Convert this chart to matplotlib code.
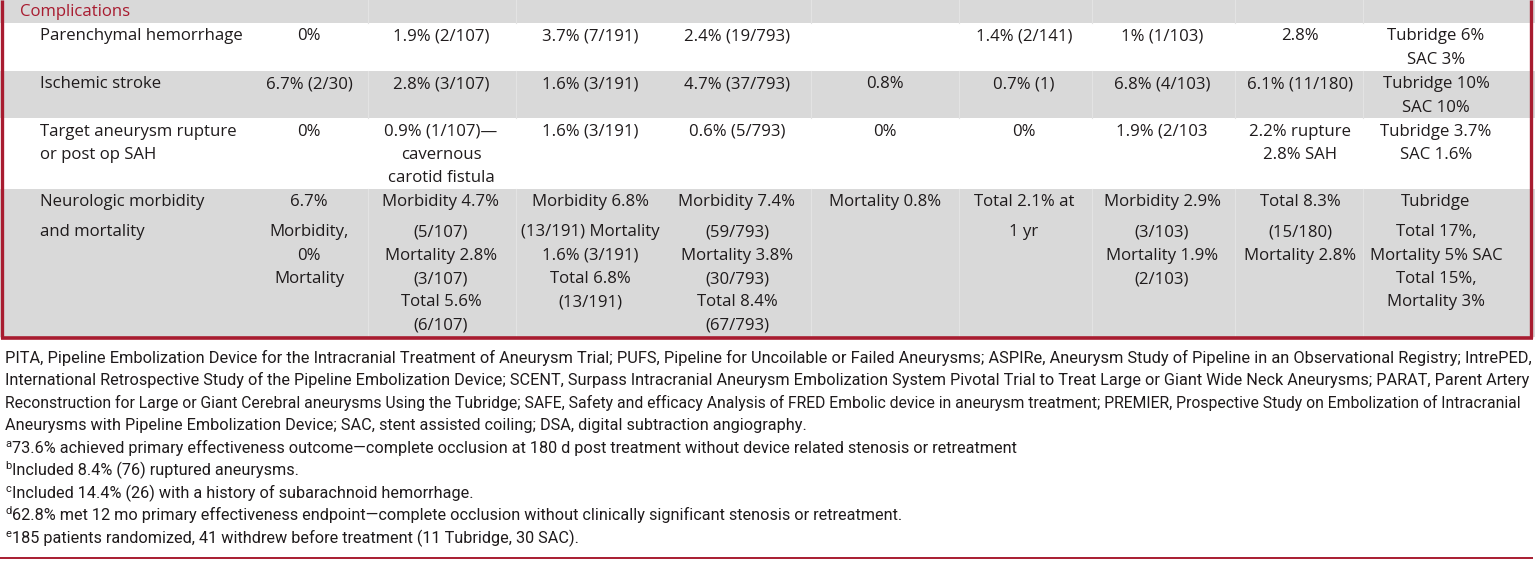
import matplotlib
matplotlib.use('Agg')
import matplotlib.pyplot as plt
from matplotlib.patches import Rectangle

# table content
row_labels = ['Parenchymal hemorrhage', 'Ischemic stroke',
              'Target aneurysm rupture\nor post op SAH',
              'Neurologic morbidity\nand mortality']

parenchymal = ['0%', '1.9% (2/107)', '3.7% (7/191)', '2.4% (19/793)', '',
               '1.4% (2/141)', '1% (1/103)', '2.8%', 'Tubridge 6%\nSAC 3%']
ischemic = ['6.7% (2/30)', '2.8% (3/107)', '1.6% (3/191)', '4.7% (37/793)',
            '0.8%', '0.7% (1)', '6.8% (4/103)', '6.1% (11/180)',
            'Tubridge 10%\nSAC 10%']
rupture = ['0%', '0.9% (1/107)—\ncavernous\ncarotid fistula', '1.6% (3/191)',
           '0.6% (5/793)', '0%', '0%', '1.9% (2/103',
           '2.2% rupture\n2.8% SAH', 'Tubridge 3.7%\nSAC 1.6%']
neuro = ['6.7%\nMorbidity,\n0%\nMortality',
         'Morbidity 4.7%\n(5/107)\nMortality 2.8%\n(3/107)\nTotal 5.6%\n(6/107)',
         'Morbidity 6.8%\n(13/191) Mortality\n1.6% (3/191)\nTotal 6.8%\n(13/191)',
         'Morbidity 7.4%\n(59/793)\nMortality 3.8%\n(30/793)\nTotal 8.4%\n(67/793)',
         'Mortality 0.8%',
         'Total 2.1% at\n1 yr',
         'Morbidity 2.9%\n(3/103)\nMortality 1.9%\n(2/103)',
         'Total 8.3%\n(15/180)\nMortality 2.8%',
         'Tubridge\nTotal 17%,\nMortality 5% SAC\nTotal 15%,\nMortality 3%']
rows = [parenchymal, ischemic, rupture, neuro]

abbrev = ('PITA, Pipeline Embolization Device for the Intracranial Treatment of Aneurysm Trial; '
          'PUFS, Pipeline for Uncoilable or Failed Aneurysms; ASPIRe, Aneurysm Study of Pipeline '
          'in an Observational Registry; IntrePED,|International Retrospective Study of the Pipeline '
          'Embolization Device; SCENT, Surpass Intracranial Aneurysm Embolization System Pivotal '
          'Trial to Treat Large or Giant Wide Neck Aneurysms; PARAT, Parent Artery|Reconstruction '
          'for Large or Giant Cerebral aneurysms Using the Tubridge; SAFE, Safety and efficacy '
          'Analysis of FRED Embolic device in aneurysm treatment; PREMIER, Prospective Study on '
          'Embolization of Intracranial|Aneurysms with Pipeline Embolization Device; SAC, stent '
          'assisted coiling; DSA, digital subtraction angiography.')
abbrev_lines = abbrev.split('|')

note_marks = ['a', 'b', 'c', 'd', 'e']
notes = ['73.6% achieved primary effectiveness outcome—complete occlusion at 180 d post '
         'treatment without device related stenosis or retreatment',
         'Included 8.4% (76) ruptured aneurysms.',
         'Included 14.4% (26) with a history of subarachnoid hemorrhage.',
         '62.8% met 12 mo primary effectiveness endpoint—complete occlusion without '
         'clinically significant stenosis or retreatment.',
         '185 patients randomized, 41 withdrew before treatment (11 Tubridge, 30 SAC).']

# layout (pixels)
W, H = 1535, 564
col_x = [309, 441, 590, 737, 885, 1024, 1162, 1300, 1436]
sep_x = [368, 516, 811, 959, 1092, 1235, 1363]
row_top = [23, 71, 118, 189]
row_bot = [71, 118, 189, 337]

grey = '#d9d9d9'
red = '#a81c30'
ink = '#1f1b1c'
tfont = 'Open Sans'
tsize = 12.1
nfont = 'Roboto'
nsize = 11.7

fig = plt.figure(figsize=(W / 100, H / 100), dpi=100)
ax = fig.add_axes([0, 0, 1, 1])
ax.set_xlim(0, W)
ax.set_ylim(H, 0)
ax.axis('off')

# header band + alternating rows
ax.add_patch(Rectangle((0, 0), W, row_top[0], color=grey, lw=0))
for i in range(len(rows)):
    if i % 2 == 1:
        ax.add_patch(Rectangle((0, row_top[i]), W, row_bot[i] - row_top[i],
                               color=grey, lw=0))
        for x in sep_x:
            ax.plot([x, x], [row_top[i], row_bot[i]], color='#e3e3e3', lw=0.8)
for x in sep_x:
    ax.plot([x, x], [0, row_top[0]], color='#e3e3e3', lw=0.8)

ax.text(20, 16, 'Complications', color=red, fontsize=tsize, family=tfont,
        va='baseline')

for i, (label, vals) in enumerate(zip(row_labels, rows)):
    base = row_top[i] + 17.5
    gap_first = 30 if i == 3 else 23.3
    cells = [(40, label, 'left')] + [(x, v, 'center') for x, v in zip(col_x, vals)]
    for x, txt, ha in cells:
        for j, line in enumerate(txt.split('\n')):
            y = base if j == 0 else base + gap_first + 23.3 * (j - 1)
            ax.text(x, y, line, ha=ha, va='baseline', fontsize=tsize,
                    family=tfont, color=ink)

# borders
ax.plot([2, 2], [0, 338], color=red, lw=2.4, solid_capstyle='butt')
ax.plot([1531, 1531], [0, 338], color=red, lw=2.4, solid_capstyle='butt')
ax.plot([0.5, 1532.5], [338, 338], color=red, lw=2.6, solid_capstyle='butt')
ax.plot([0, 1533], [557.5, 557.5], color=red, lw=1.4, solid_capstyle='butt')

# footnotes; full lines of the abbreviation paragraph are sized to fill the width
renderer = fig.canvas.get_renderer()

y = 363
for k, line in enumerate(abbrev_lines):
    t = ax.text(5, y, line, fontsize=nsize, family=nfont, color=ink,
                va='baseline')
    if k < len(abbrev_lines) - 1:
        w = t.get_window_extent(renderer).width
        t.set_fontsize(nsize * 1523 / w)
    y += 22.3

y = 452.7
for m, note in zip(note_marks, notes):
    ax.text(5, y - 6, m, fontsize=8, family=nfont, color=ink, va='baseline')
    ax.text(12.5, y, note, fontsize=nsize, family=nfont, color=ink,
            va='baseline')
    y += 22.5

fig.savefig('out.png', dpi=100)
